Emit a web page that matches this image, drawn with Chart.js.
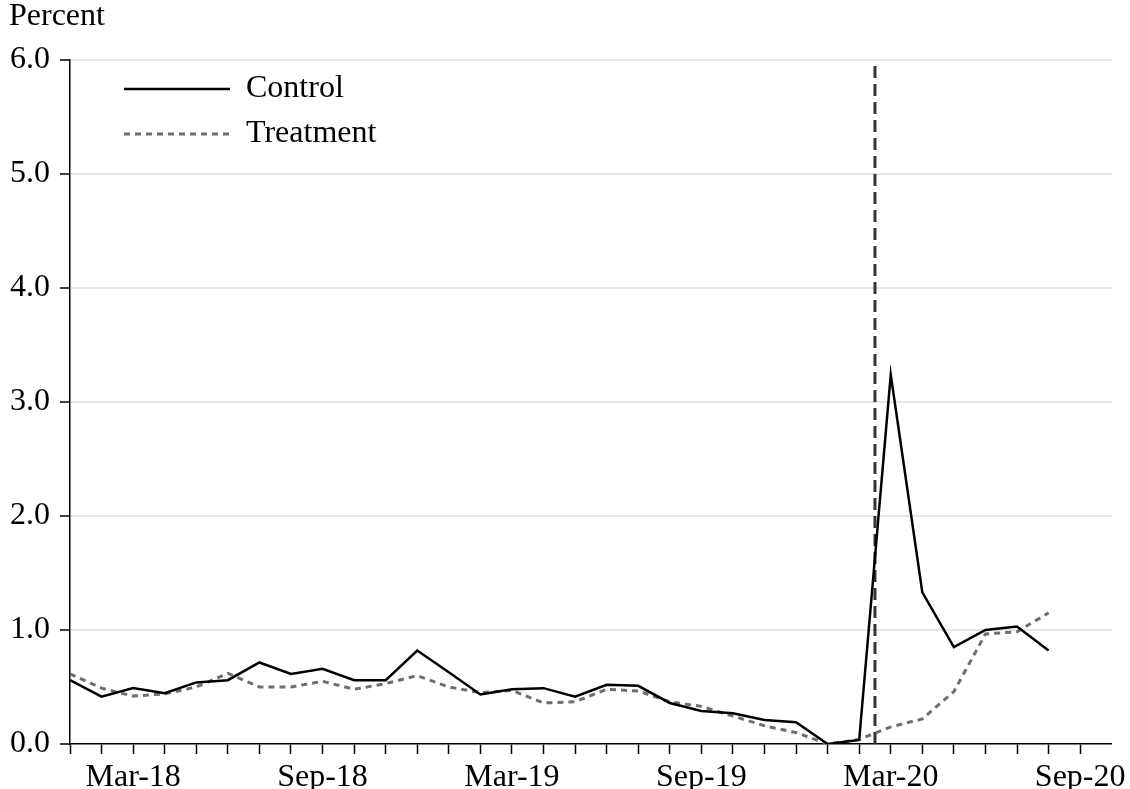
<!DOCTYPE html>
<html>
<head>
<meta charset="utf-8">
<script src="https://cdn.jsdelivr.net/npm/chart.js@4.4.0/dist/chart.umd.min.js"></script>
<style>
html,body{margin:0;padding:0;background:#fff;}
#wrap{width:1130px;height:789px;position:relative;}
</style>
</head>
<body>
<div id="wrap"><canvas id="c" width="1130" height="789"></canvas></div>
<script>
// ---- data ----
const months = ['Jan-18','Feb-18','Mar-18','Apr-18','May-18','Jun-18','Jul-18','Aug-18','Sep-18','Oct-18','Nov-18','Dec-18',
                'Jan-19','Feb-19','Mar-19','Apr-19','May-19','Jun-19','Jul-19','Aug-19','Sep-19','Oct-19','Nov-19','Dec-19',
                'Jan-20','Feb-20','Mar-20','Apr-20','May-20','Jun-20','Jul-20','Aug-20','Sep-20','Oct-20'];
const labeledMonths = ['Mar-18','Sep-18','Mar-19','Sep-19','Mar-20','Sep-20'];
const control = [0.56, 0.415, 0.49, 0.445, 0.54, 0.56, 0.715, 0.615, 0.66, 0.56, 0.56, 0.82,
                 0.63, 0.435, 0.48, 0.49, 0.415, 0.52, 0.51, 0.36, 0.29, 0.27, 0.21, 0.19,
                 0.0, 0.035, 3.24, 1.33, 0.85, 1.0, 1.03, 0.82];
const treatment = [0.615, 0.49, 0.42, 0.44, 0.50, 0.62, 0.50, 0.50, 0.55, 0.48, 0.53, 0.60,
                   0.50, 0.45, 0.47, 0.36, 0.37, 0.48, 0.465, 0.37, 0.33, 0.245, 0.16, 0.10,
                   0.0, 0.04, 0.15, 0.22, 0.46, 0.965, 0.985, 1.15];
const eventMonthIndex = 25.5;   // vertical marker between Feb-20 and Mar-20
const yMin = 0, yMax = 6, yStep = 1;

// ---- chart ----
const FONT = "'Liberation Serif', 'Times New Roman', serif";
const FS = 32;
const legendPlace = {
  id: 'legendPlace',
  afterLayout(chart) {
    const lg = chart.legend, ca = chart.chartArea;
    if (!lg) return;
    lg.left = ca.left + 41; lg.right = ca.right;
    lg.top = ca.top; lg.bottom = ca.bottom;
  }
};

new Chart(document.getElementById('c').getContext('2d'), {
  type: 'line',
  data: {
    datasets: [
      { label: 'Control', data: control.map((v, i) => ({x: i, y: v})),
        borderColor: '#000', borderWidth: 2.5, pointRadius: 0, tension: 0, fill: false },
      { label: 'Treatment', data: treatment.map((v, i) => ({x: i, y: v})),
        borderColor: '#6e6e6e', borderWidth: 3, borderDash: [6, 5], pointRadius: 0, tension: 0, fill: false },
      { label: 'event', data: [{x: eventMonthIndex, y: yMin}, {x: eventMonthIndex, y: yMax}],
        borderColor: '#333', borderWidth: 3, borderDash: [12, 6], pointRadius: 0, fill: false }
    ]
  },
  options: {
    responsive: false, animation: false, devicePixelRatio: 1,
    layout: { padding: { left: 9, right: 17, top: 0, bottom: 0 } },
    plugins: {
      title: { display: true, text: 'Percent', align: 'start', color: '#000',
               font: { family: FONT, size: FS, weight: 'normal' }, padding: { top: -3, bottom: 24.6 } },
      legend: { position: 'chartArea', align: 'start',
        labels: {
          generateLabels: chart => Chart.defaults.plugins.legend.labels.generateLabels(chart).map(item => {
            const ds = chart.data.datasets[item.datasetIndex];
            item.lineDash = ds.borderDash || [];
            item.lineWidth = ds.borderWidth;
            item.strokeStyle = ds.borderColor;
            return item;
          }),
          filter: item => item.datasetIndex < 2, usePointStyle: true, pointStyle: 'line',
          pointStyleWidth: 106, boxWidth: 106, color: '#000', padding: 13,
          font: { family: FONT, size: FS } } },
      tooltip: { enabled: false }
    },
    scales: {
      x: { type: 'linear', min: 0, max: months.length - 1,
        afterBuildTicks: s => { s.ticks = months.slice(0, months.length - 1).map((m, i) => ({ value: i })); },
        afterFit: s => { s.height = 45; },
        ticks: { autoSkip: false, maxRotation: 0, color: '#000', padding: 4,
                 font: { family: FONT, size: FS },
                 callback: v => labeledMonths.includes(months[v]) ? months[v] : '' },
        grid: { drawOnChartArea: false, drawTicks: true, tickLength: 10, tickColor: '#000', tickWidth: 1.5 },
        border: { color: '#000', width: 1.5 } },
      y: { min: yMin, max: yMax,
        afterFit: s => { s.width = 61; },
        ticks: { stepSize: yStep, color: '#000', padding: 10, font: { family: FONT, size: FS },
                 callback: v => Number(v).toFixed(1) },
        grid: { color: c => c.tick && c.tick.value === 0 ? 'rgba(0,0,0,0)' : '#e6e6e6', lineWidth: 2,
                tickColor: '#000', tickLength: 10, tickWidth: 1.5 },
        border: { color: '#000', width: 1.5 } }
    }
  },
  plugins: [legendPlace]
});
</script>
</body>
</html>
